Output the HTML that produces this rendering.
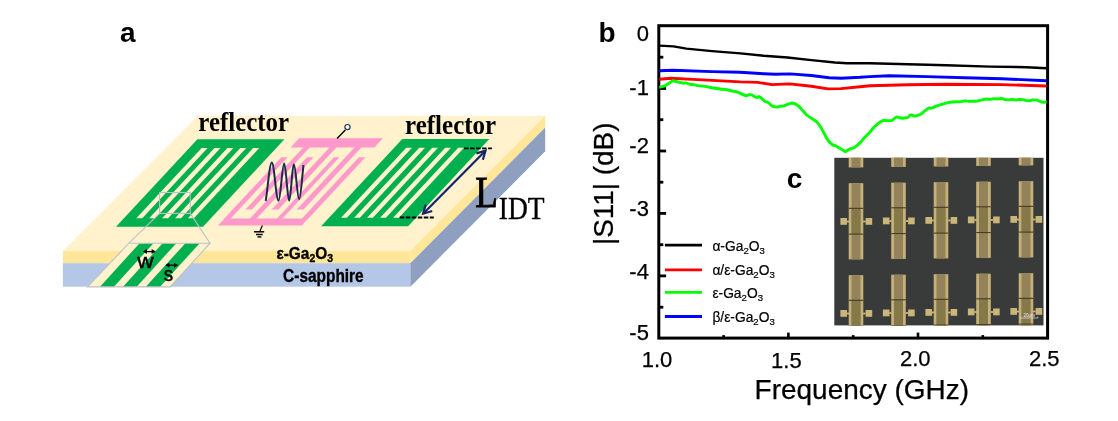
<!DOCTYPE html>
<html><head><meta charset="utf-8"><title>Figure</title>
<style>html,body{margin:0;padding:0;background:#fff;}svg{display:block;}</style>
</head><body>
<svg width="1118" height="421" viewBox="0 0 1118 421">
<polygon points="197.7,115.8 545.2,115.8 410.4,251.0 62.9,251.0" fill="#fff2cc" />
<rect x="62.9" y="251" width="347.5" height="12.2" fill="#ffe699"/>
<rect x="62.9" y="263.2" width="347.5" height="23.5" fill="#b4c7e7"/>
<polygon points="410.4,251.0 545.2,115.8 545.2,127.5 410.4,263.2" fill="#ffe699" />
<polygon points="410.4,263.2 545.2,127.5 545.2,151.3 410.4,286.7" fill="#8f9fbf" />
<polygon points="197.4,139.3 284.4,139.3 203.0,226.7 116.0,226.7" fill="#00b050" />
<polygon points="201.6,148.1 207.6,148.1 142.3,218.2 136.3,218.2" fill="#fff2cc" />
<polygon points="214.5,148.1 220.5,148.1 155.2,218.2 149.2,218.2" fill="#fff2cc" />
<polygon points="227.4,148.1 233.4,148.1 168.1,218.2 162.1,218.2" fill="#fff2cc" />
<polygon points="240.3,148.1 246.3,148.1 181.0,218.2 175.0,218.2" fill="#fff2cc" />
<polygon points="253.2,148.1 259.2,148.1 193.9,218.2 187.9,218.2" fill="#fff2cc" />
<polygon points="402.3,139.0 489.3,139.0 408.1,226.3 321.1,226.3" fill="#00b050" />
<polygon points="406.2,147.8 412.0,147.8 346.9,217.8 341.1,217.8" fill="#fff2cc" />
<polygon points="419.2,147.8 425.0,147.8 359.9,217.8 354.1,217.8" fill="#fff2cc" />
<polygon points="432.2,147.8 438.0,147.8 372.9,217.8 367.1,217.8" fill="#fff2cc" />
<polygon points="445.2,147.8 451.0,147.8 385.9,217.8 380.1,217.8" fill="#fff2cc" />
<polygon points="458.2,147.8 464.0,147.8 398.9,217.8 393.1,217.8" fill="#fff2cc" />
<polygon points="299.2,138.3 382.9,138.3 374.3,147.5 290.6,147.5" fill="#ff99cc" />
<polygon points="224.6,218.5 308.3,218.5 301.7,225.6 218.0,225.6" fill="#ff99cc" />
<polygon points="281.3,157.3 287.6,157.3 230.2,219.0 223.9,219.0" fill="#ff99cc" />
<polygon points="303.7,147.0 310.2,147.0 251.9,209.6 245.4,209.6" fill="#ff99cc" />
<polygon points="307.0,157.3 313.6,157.3 256.2,219.0 249.6,219.0" fill="#ff99cc" />
<polygon points="330.0,147.0 336.8,147.0 278.5,209.6 271.7,209.6" fill="#ff99cc" />
<polygon points="334.0,157.3 339.4,157.3 282.0,219.0 276.6,219.0" fill="#ff99cc" />
<polygon points="355.0,147.0 361.8,147.0 303.5,209.6 296.7,209.6" fill="#ff99cc" />
<polygon points="358.9,157.3 365.4,157.3 308.0,219.0 301.5,219.0" fill="#ff99cc" />
<path d="M265.7,201.0 C267.23,193.00 269.58,162.50 271.80,162.50 C274.24,162.50 276.06,200.60 278.50,200.60 C280.58,200.60 282.12,163.50 284.20,163.50 C286.02,163.50 287.38,200.60 289.20,200.60 C290.88,200.60 292.12,164.30 293.80,164.30 C295.77,164.30 297.23,199.20 299.20,199.20 C300.77,199.20 302.43,173.00 303.50,165.00" fill="none" stroke="#1c2a4e" stroke-width="2" stroke-linejoin="round"/>
<line x1="337.1" y1="138.5" x2="345.3" y2="130" stroke="#000" stroke-width="1.4"/>
<circle cx="347.5" cy="127.1" r="2.6" fill="#fffaf0" stroke="#1f3864" stroke-width="1.2"/>
<line x1="262.4" y1="225.6" x2="260" y2="231" stroke="#000" stroke-width="1.2"/>
<line x1="254" y1="231.8" x2="264.2" y2="231.8" stroke="#000" stroke-width="1.5"/>
<line x1="256" y1="234.5" x2="262.7" y2="234.5" stroke="#000" stroke-width="1.5"/>
<line x1="257.5" y1="236.9" x2="261.4" y2="236.9" stroke="#000" stroke-width="1.4"/>
<line x1="464.1" y1="148.4" x2="491.9" y2="148.4" stroke="#000" stroke-width="1.8" stroke-dasharray="4.5,1.5"/>
<line x1="399.8" y1="217.5" x2="433.8" y2="217.5" stroke="#000" stroke-width="1.8" stroke-dasharray="4.5,1.5"/>
<line x1="485.5" y1="150.7" x2="423.1" y2="213.7" stroke="#14246e" stroke-width="2.2"/>
<polyline points="476.4,153.4 485.5,150.7 482.9,159.8" fill="none" stroke="#14246e" stroke-width="2.2" stroke-linejoin="miter"/>
<polyline points="432.2,211.0 423.1,213.7 425.7,204.6" fill="none" stroke="#14246e" stroke-width="2.2" stroke-linejoin="miter"/>
<rect x="159.6" y="192.5" width="30.6" height="20.9" fill="none" stroke="#bfbfc9" stroke-width="1.1"/>
<line x1="159.6" y1="213.4" x2="128.9" y2="243.2" stroke="#bfbfc9" stroke-width="1.1"/>
<line x1="190.2" y1="213.4" x2="210.1" y2="243.2" stroke="#bfbfc9" stroke-width="1.1"/>
<clipPath id="ins"><polygon points="128.9,243.2 210.1,243.2 170.2,286.9 87.5,286.9"/></clipPath>
<polygon points="128.9,243.2 210.1,243.2 170.2,286.9 87.5,286.9" fill="#fff2cc" />
<g clip-path="url(#ins)">
<polygon points="139.6,243.2 153.5,243.2 113.7,286.9 99.8,286.9" fill="#00b050" />
<polygon points="162.6,243.2 176.3,243.2 136.5,286.9 122.8,286.9" fill="#00b050" />
<polygon points="185.4,243.2 199.7,243.2 159.9,286.9 145.6,286.9" fill="#00b050" />
</g>
<polygon points="128.9,243.2 210.1,243.2 170.2,286.9 87.5,286.9" fill="none" stroke="#bfbfc9" stroke-width="1.1"/>
<line x1="143.5" y1="251.6" x2="155.0" y2="251.6" stroke="#000" stroke-width="1.3"/>
<polygon points="142.9,251.6 146.9,249.1 146.9,254.1" fill="#000"/>
<polygon points="155.6,251.6 151.6,249.1 151.6,254.1" fill="#000"/>
<line x1="166.0" y1="265.2" x2="177.5" y2="265.2" stroke="#000" stroke-width="1.3"/>
<polygon points="165.4,265.2 169.4,262.7 169.4,267.7" fill="#000"/>
<polygon points="178.1,265.2 174.1,262.7 174.1,267.7" fill="#000"/>
<text x="145.5" y="267.8" font-family="'Liberation Sans',sans-serif" font-size="20" stroke="#000" stroke-width="0.45" text-anchor="middle" textLength="16.4" lengthAdjust="spacingAndGlyphs">w</text>
<text x="168.5" y="281.1" font-family="'Liberation Sans',sans-serif" font-size="20" stroke="#000" stroke-width="0.45" text-anchor="middle" textLength="9.4" lengthAdjust="spacingAndGlyphs">s</text>
<text x="198.3" y="130.6" font-family="'Liberation Serif',serif" font-weight="bold" font-size="26.5" textLength="90.8" lengthAdjust="spacingAndGlyphs">reflector</text>
<text x="405" y="133.8" font-family="'Liberation Serif',serif" font-weight="bold" font-size="26.5" textLength="91.2" lengthAdjust="spacingAndGlyphs">reflector</text>
<text x="475.3" y="207.3" font-family="'Liberation Serif',serif" font-size="43.8" stroke="#000" stroke-width="0.9" textLength="22.6" lengthAdjust="spacingAndGlyphs">L</text>
<text x="498.8" y="218.7" font-family="'Liberation Serif',serif" font-size="32.5" stroke="#000" stroke-width="0.35" textLength="45.8" lengthAdjust="spacingAndGlyphs">IDT</text>
<text x="276.4" y="259" font-family="'Liberation Sans',sans-serif" font-weight="bold" font-size="17" stroke="#000" stroke-width="0.35" textLength="56.6" lengthAdjust="spacingAndGlyphs">ε-Ga<tspan font-size="11.5" dy="3">2</tspan><tspan dy="-3">O</tspan><tspan font-size="11.5" dy="3">3</tspan></text>
<text x="283.1" y="281.8" font-family="'Liberation Sans',sans-serif" font-weight="bold" font-size="17.8" stroke="#000" stroke-width="0.35" textLength="80.6" lengthAdjust="spacingAndGlyphs">C-sapphire</text>
<text x="120" y="41.5" font-family="'Liberation Sans',sans-serif" font-weight="bold" font-size="28">a</text>
<text x="598.6" y="41.5" font-family="'Liberation Sans',sans-serif" font-weight="bold" font-size="28">b</text>
<text x="786.8" y="188.3" font-family="'Liberation Sans',sans-serif" font-weight="bold" font-size="28">c</text>
<clipPath id="mc"><rect x="834.3" y="157.8" width="209.2" height="167.6"/></clipPath>
<rect x="834.3" y="157.8" width="209.2" height="167.6" fill="#393b3a"/>
<g clip-path="url(#mc)">
<rect x="848.7" y="91.2" width="14.6" height="76.2" fill="#c6b079"/>
<rect x="851.5" y="91.2" width="9.0" height="76.2" fill="#94835a"/>
<rect x="851.5" y="116.3" width="9.0" height="25.8" fill="#867949"/>
<rect x="848.7" y="115.8" width="14.6" height="1" fill="#3e3524"/>
<rect x="848.7" y="141.6" width="14.6" height="1" fill="#3e3524"/>
<rect x="840.4" y="126.0" width="6.6" height="6.8" fill="#cbb679"/>
<rect x="865.6" y="126.0" width="6.6" height="6.8" fill="#cbb679"/>
<rect x="846.8" y="128.6" width="2.5" height="1.8" fill="#cbb679"/>
<rect x="863.1" y="128.6" width="2.5" height="1.8" fill="#cbb679"/>
<rect x="848.7" y="183.2" width="14.6" height="76.2" fill="#c6b079"/>
<rect x="851.5" y="183.2" width="9.0" height="76.2" fill="#94835a"/>
<rect x="851.5" y="208.3" width="9.0" height="25.8" fill="#867949"/>
<rect x="848.7" y="207.8" width="14.6" height="1" fill="#3e3524"/>
<rect x="848.7" y="233.6" width="14.6" height="1" fill="#3e3524"/>
<rect x="840.4" y="218.0" width="6.6" height="6.8" fill="#cbb679"/>
<rect x="865.6" y="218.0" width="6.6" height="6.8" fill="#cbb679"/>
<rect x="846.8" y="220.6" width="2.5" height="1.8" fill="#cbb679"/>
<rect x="863.1" y="220.6" width="2.5" height="1.8" fill="#cbb679"/>
<rect x="848.7" y="275.2" width="14.6" height="76.2" fill="#c6b079"/>
<rect x="851.5" y="275.2" width="9.0" height="76.2" fill="#94835a"/>
<rect x="851.5" y="300.3" width="9.0" height="25.8" fill="#867949"/>
<rect x="848.7" y="299.8" width="14.6" height="1" fill="#3e3524"/>
<rect x="848.7" y="325.6" width="14.6" height="1" fill="#3e3524"/>
<rect x="840.4" y="310.0" width="6.6" height="6.8" fill="#cbb679"/>
<rect x="865.6" y="310.0" width="6.6" height="6.8" fill="#cbb679"/>
<rect x="846.8" y="312.6" width="2.5" height="1.8" fill="#cbb679"/>
<rect x="863.1" y="312.6" width="2.5" height="1.8" fill="#cbb679"/>
<rect x="891.2" y="90.7" width="14.6" height="76.2" fill="#c6b079"/>
<rect x="894.0" y="90.7" width="9.0" height="76.2" fill="#94835a"/>
<rect x="894.0" y="115.8" width="9.0" height="25.8" fill="#867949"/>
<rect x="891.2" y="115.3" width="14.6" height="1" fill="#3e3524"/>
<rect x="891.2" y="141.1" width="14.6" height="1" fill="#3e3524"/>
<rect x="882.9" y="125.5" width="6.6" height="6.8" fill="#cbb679"/>
<rect x="908.1" y="125.5" width="6.6" height="6.8" fill="#cbb679"/>
<rect x="889.3" y="128.1" width="2.5" height="1.8" fill="#cbb679"/>
<rect x="905.6" y="128.1" width="2.5" height="1.8" fill="#cbb679"/>
<rect x="891.2" y="182.7" width="14.6" height="76.2" fill="#c6b079"/>
<rect x="894.0" y="182.7" width="9.0" height="76.2" fill="#94835a"/>
<rect x="894.0" y="207.8" width="9.0" height="25.8" fill="#867949"/>
<rect x="891.2" y="207.3" width="14.6" height="1" fill="#3e3524"/>
<rect x="891.2" y="233.1" width="14.6" height="1" fill="#3e3524"/>
<rect x="882.9" y="217.5" width="6.6" height="6.8" fill="#cbb679"/>
<rect x="908.1" y="217.5" width="6.6" height="6.8" fill="#cbb679"/>
<rect x="889.3" y="220.1" width="2.5" height="1.8" fill="#cbb679"/>
<rect x="905.6" y="220.1" width="2.5" height="1.8" fill="#cbb679"/>
<rect x="891.2" y="274.7" width="14.6" height="76.2" fill="#c6b079"/>
<rect x="894.0" y="274.7" width="9.0" height="76.2" fill="#94835a"/>
<rect x="894.0" y="299.8" width="9.0" height="25.8" fill="#867949"/>
<rect x="891.2" y="299.3" width="14.6" height="1" fill="#3e3524"/>
<rect x="891.2" y="325.1" width="14.6" height="1" fill="#3e3524"/>
<rect x="882.9" y="309.5" width="6.6" height="6.8" fill="#cbb679"/>
<rect x="908.1" y="309.5" width="6.6" height="6.8" fill="#cbb679"/>
<rect x="889.3" y="312.1" width="2.5" height="1.8" fill="#cbb679"/>
<rect x="905.6" y="312.1" width="2.5" height="1.8" fill="#cbb679"/>
<rect x="933.7" y="90.2" width="14.6" height="76.2" fill="#c6b079"/>
<rect x="936.5" y="90.2" width="9.0" height="76.2" fill="#94835a"/>
<rect x="936.5" y="115.3" width="9.0" height="25.8" fill="#867949"/>
<rect x="933.7" y="114.8" width="14.6" height="1" fill="#3e3524"/>
<rect x="933.7" y="140.6" width="14.6" height="1" fill="#3e3524"/>
<rect x="925.4" y="125.0" width="6.6" height="6.8" fill="#cbb679"/>
<rect x="950.6" y="125.0" width="6.6" height="6.8" fill="#cbb679"/>
<rect x="931.8" y="127.6" width="2.5" height="1.8" fill="#cbb679"/>
<rect x="948.1" y="127.6" width="2.5" height="1.8" fill="#cbb679"/>
<rect x="933.7" y="182.2" width="14.6" height="76.2" fill="#c6b079"/>
<rect x="936.5" y="182.2" width="9.0" height="76.2" fill="#94835a"/>
<rect x="936.5" y="207.3" width="9.0" height="25.8" fill="#867949"/>
<rect x="933.7" y="206.8" width="14.6" height="1" fill="#3e3524"/>
<rect x="933.7" y="232.6" width="14.6" height="1" fill="#3e3524"/>
<rect x="925.4" y="217.0" width="6.6" height="6.8" fill="#cbb679"/>
<rect x="950.6" y="217.0" width="6.6" height="6.8" fill="#cbb679"/>
<rect x="931.8" y="219.6" width="2.5" height="1.8" fill="#cbb679"/>
<rect x="948.1" y="219.6" width="2.5" height="1.8" fill="#cbb679"/>
<rect x="933.7" y="274.2" width="14.6" height="76.2" fill="#c6b079"/>
<rect x="936.5" y="274.2" width="9.0" height="76.2" fill="#94835a"/>
<rect x="936.5" y="299.3" width="9.0" height="25.8" fill="#867949"/>
<rect x="933.7" y="298.8" width="14.6" height="1" fill="#3e3524"/>
<rect x="933.7" y="324.6" width="14.6" height="1" fill="#3e3524"/>
<rect x="925.4" y="309.0" width="6.6" height="6.8" fill="#cbb679"/>
<rect x="950.6" y="309.0" width="6.6" height="6.8" fill="#cbb679"/>
<rect x="931.8" y="311.6" width="2.5" height="1.8" fill="#cbb679"/>
<rect x="948.1" y="311.6" width="2.5" height="1.8" fill="#cbb679"/>
<rect x="976.2" y="89.7" width="14.6" height="76.2" fill="#c6b079"/>
<rect x="979.0" y="89.7" width="9.0" height="76.2" fill="#94835a"/>
<rect x="979.0" y="114.8" width="9.0" height="25.8" fill="#867949"/>
<rect x="976.2" y="114.3" width="14.6" height="1" fill="#3e3524"/>
<rect x="976.2" y="140.1" width="14.6" height="1" fill="#3e3524"/>
<rect x="967.9" y="124.5" width="6.6" height="6.8" fill="#cbb679"/>
<rect x="993.1" y="124.5" width="6.6" height="6.8" fill="#cbb679"/>
<rect x="974.3" y="127.1" width="2.5" height="1.8" fill="#cbb679"/>
<rect x="990.6" y="127.1" width="2.5" height="1.8" fill="#cbb679"/>
<rect x="976.2" y="181.7" width="14.6" height="76.2" fill="#c6b079"/>
<rect x="979.0" y="181.7" width="9.0" height="76.2" fill="#94835a"/>
<rect x="979.0" y="206.8" width="9.0" height="25.8" fill="#867949"/>
<rect x="976.2" y="206.3" width="14.6" height="1" fill="#3e3524"/>
<rect x="976.2" y="232.1" width="14.6" height="1" fill="#3e3524"/>
<rect x="967.9" y="216.5" width="6.6" height="6.8" fill="#cbb679"/>
<rect x="993.1" y="216.5" width="6.6" height="6.8" fill="#cbb679"/>
<rect x="974.3" y="219.1" width="2.5" height="1.8" fill="#cbb679"/>
<rect x="990.6" y="219.1" width="2.5" height="1.8" fill="#cbb679"/>
<rect x="976.2" y="273.7" width="14.6" height="76.2" fill="#c6b079"/>
<rect x="979.0" y="273.7" width="9.0" height="76.2" fill="#94835a"/>
<rect x="979.0" y="298.8" width="9.0" height="25.8" fill="#867949"/>
<rect x="976.2" y="298.3" width="14.6" height="1" fill="#3e3524"/>
<rect x="976.2" y="324.1" width="14.6" height="1" fill="#3e3524"/>
<rect x="967.9" y="308.5" width="6.6" height="6.8" fill="#cbb679"/>
<rect x="993.1" y="308.5" width="6.6" height="6.8" fill="#cbb679"/>
<rect x="974.3" y="311.1" width="2.5" height="1.8" fill="#cbb679"/>
<rect x="990.6" y="311.1" width="2.5" height="1.8" fill="#cbb679"/>
<rect x="1018.7" y="89.2" width="14.6" height="76.2" fill="#c6b079"/>
<rect x="1021.5" y="89.2" width="9.0" height="76.2" fill="#94835a"/>
<rect x="1021.5" y="114.3" width="9.0" height="25.8" fill="#867949"/>
<rect x="1018.7" y="113.8" width="14.6" height="1" fill="#3e3524"/>
<rect x="1018.7" y="139.6" width="14.6" height="1" fill="#3e3524"/>
<rect x="1010.4" y="124.0" width="6.6" height="6.8" fill="#cbb679"/>
<rect x="1035.6" y="124.0" width="6.6" height="6.8" fill="#cbb679"/>
<rect x="1016.8" y="126.6" width="2.5" height="1.8" fill="#cbb679"/>
<rect x="1033.1" y="126.6" width="2.5" height="1.8" fill="#cbb679"/>
<rect x="1018.7" y="181.2" width="14.6" height="76.2" fill="#c6b079"/>
<rect x="1021.5" y="181.2" width="9.0" height="76.2" fill="#94835a"/>
<rect x="1021.5" y="206.3" width="9.0" height="25.8" fill="#867949"/>
<rect x="1018.7" y="205.8" width="14.6" height="1" fill="#3e3524"/>
<rect x="1018.7" y="231.6" width="14.6" height="1" fill="#3e3524"/>
<rect x="1010.4" y="216.0" width="6.6" height="6.8" fill="#cbb679"/>
<rect x="1035.6" y="216.0" width="6.6" height="6.8" fill="#cbb679"/>
<rect x="1016.8" y="218.6" width="2.5" height="1.8" fill="#cbb679"/>
<rect x="1033.1" y="218.6" width="2.5" height="1.8" fill="#cbb679"/>
<rect x="1018.7" y="273.2" width="14.6" height="76.2" fill="#c6b079"/>
<rect x="1021.5" y="273.2" width="9.0" height="76.2" fill="#94835a"/>
<rect x="1021.5" y="298.3" width="9.0" height="25.8" fill="#867949"/>
<rect x="1018.7" y="297.8" width="14.6" height="1" fill="#3e3524"/>
<rect x="1018.7" y="323.6" width="14.6" height="1" fill="#3e3524"/>
<rect x="1010.4" y="308.0" width="6.6" height="6.8" fill="#cbb679"/>
<rect x="1035.6" y="308.0" width="6.6" height="6.8" fill="#cbb679"/>
<rect x="1016.8" y="310.6" width="2.5" height="1.8" fill="#cbb679"/>
<rect x="1033.1" y="310.6" width="2.5" height="1.8" fill="#cbb679"/>
</g>
<text x="1023.5" y="317.2" font-family="'Liberation Sans',sans-serif" font-size="4.6" fill="#e8e8e8" textLength="11.5" lengthAdjust="spacingAndGlyphs">20μm</text>
<path d="M1020,316.6 V318 H1037.8 V316.6" fill="none" stroke="#dcdcdc" stroke-width="0.7"/>
<rect x="658.8" y="25.7" width="388.8" height="312.4" fill="none" stroke="#000" stroke-width="3"/>
<line x1="658.8" y1="88.5" x2="666.1" y2="88.5" stroke="#000" stroke-width="2.8"/>
<line x1="658.8" y1="151.0" x2="666.1" y2="151.0" stroke="#000" stroke-width="2.8"/>
<line x1="658.8" y1="213.4" x2="666.1" y2="213.4" stroke="#000" stroke-width="2.8"/>
<line x1="658.8" y1="275.9" x2="666.1" y2="275.9" stroke="#000" stroke-width="2.8"/>
<line x1="658.8" y1="57.2" x2="663.3" y2="57.2" stroke="#000" stroke-width="2.8"/>
<line x1="658.8" y1="119.7" x2="663.3" y2="119.7" stroke="#000" stroke-width="2.8"/>
<line x1="658.8" y1="182.2" x2="663.3" y2="182.2" stroke="#000" stroke-width="2.8"/>
<line x1="658.8" y1="244.7" x2="663.3" y2="244.7" stroke="#000" stroke-width="2.8"/>
<line x1="658.8" y1="307.2" x2="663.3" y2="307.2" stroke="#000" stroke-width="2.8"/>
<line x1="788.4" y1="338.1" x2="788.4" y2="332.6" stroke="#000" stroke-width="2.6"/>
<line x1="918.0" y1="338.1" x2="918.0" y2="332.6" stroke="#000" stroke-width="2.6"/>
<line x1="723.6" y1="338.1" x2="723.6" y2="335.1" stroke="#000" stroke-width="2.6"/>
<line x1="853.2" y1="338.1" x2="853.2" y2="335.1" stroke="#000" stroke-width="2.6"/>
<line x1="982.8" y1="338.1" x2="982.8" y2="335.1" stroke="#000" stroke-width="2.6"/>
<polyline points="659.3,45.6 673.5,46.4 686.4,48.6 712.0,51.1 740.5,53.4 763.8,55.8 787.5,57.5 811.3,60.1 835.0,62.5 847.0,63.3 860.0,63.2 870.0,63.3 908.0,64.2 946.0,65.2 990.0,66.6 1026.6,67.2 1046.6,68.2" fill="none" stroke="#000" stroke-width="2.4" stroke-linejoin="round" stroke-linecap="butt"/>
<polyline points="659.3,79.3 670.7,78.2 697.8,79.6 740.5,81.9 757.8,82.4 772.1,84.6 789.9,83.9 811.3,86.2 827.9,88.9 841.0,88.6 860.0,86.8 870.0,85.7 908.0,84.8 946.0,84.2 1001.6,84.6 1046.6,86.0" fill="none" stroke="#ff0000" stroke-width="2.9" stroke-linejoin="round" stroke-linecap="butt"/>
<polyline points="659.3,87.4 665.0,85.9 668.5,83.5 672.8,80.6 677.8,82.0 683.5,83.2 686.0,82.9 690.6,84.5 694.0,84.6 697.8,85.6 705.0,86.4 712.0,87.7 722.0,89.2 727.0,89.6 732.0,91.0 736.0,91.6 740.5,93.4 743.5,94.9 746.2,95.9 749.0,94.7 751.9,94.9 754.5,96.6 756.9,97.7 758.8,96.6 760.5,97.2 762.5,99.3 765.0,101.3 768.3,102.5 771.6,105.8 774.5,106.8 777.5,107.1 780.5,106.2 783.3,106.1 787.5,104.4 791.6,103.0 794.0,103.4 796.6,104.6 799.0,106.6 801.5,109.1 804.0,112.0 806.5,114.9 809.0,116.6 811.5,118.3 814.5,120.2 817.3,122.4 820.0,126.0 822.3,129.9 824.5,134.0 826.5,138.2 829.0,141.6 831.5,144.0 833.2,145.2 834.8,145.3 837.3,146.9 839.8,148.2 842.7,150.0 845.6,151.7 847.6,150.2 849.7,149.0 852.2,148.3 854.7,147.3 857.2,145.4 859.7,143.2 862.2,140.4 864.7,137.4 867.2,135.0 869.7,132.4 872.2,129.3 874.7,126.6 877.5,124.0 880.0,122.3 883.3,120.2 887.5,120.7 891.8,120.6 894.2,118.6 896.6,116.9 900.0,117.8 903.2,118.3 905.6,117.7 908.0,117.4 909.6,115.6 910.8,114.9 913.2,115.7 915.6,116.1 918.0,115.2 920.3,114.6 924.5,111.2 928.9,107.9 930.8,108.2 932.7,107.9 935.5,106.4 938.4,105.4 942.0,104.3 946.0,103.2 950.5,102.2 955.4,101.6 960.0,101.9 965.0,100.9 969.0,101.4 973.5,101.3 976.6,101.2 980.1,100.3 983.0,99.6 986.6,99.0 990.0,99.4 994.0,98.6 997.5,99.0 1001.6,98.4 1005.0,99.5 1008.3,99.9 1012.0,99.4 1016.0,100.0 1019.5,99.4 1023.2,99.6 1026.5,100.6 1029.9,100.7 1033.0,99.9 1036.5,99.9 1040.0,101.4 1043.2,102.4 1046.6,102.0" fill="none" stroke="#00ff00" stroke-width="2.9" stroke-linejoin="round" stroke-linecap="butt"/>
<polyline points="659.3,70.7 673.5,70.2 712.0,71.6 740.0,72.3 763.8,73.7 775.6,74.3 789.9,73.9 811.3,75.5 829.1,77.8 841.0,78.2 860.0,77.3 870.0,76.6 889.0,75.8 927.0,76.6 965.0,77.8 1001.6,78.7 1046.6,80.8" fill="none" stroke="#0000ff" stroke-width="2.9" stroke-linejoin="round" stroke-linecap="butt"/>
<text x="648.9" y="40.8" text-anchor="end" font-family="'Liberation Sans',sans-serif" font-size="22" stroke="#000" stroke-width="0.25">0</text>
<text x="648.9" y="94.8" text-anchor="end" font-family="'Liberation Sans',sans-serif" font-size="22" stroke="#000" stroke-width="0.25">-1</text>
<text x="648.9" y="153.3" text-anchor="end" font-family="'Liberation Sans',sans-serif" font-size="22" stroke="#000" stroke-width="0.25">-2</text>
<text x="648.9" y="215.8" text-anchor="end" font-family="'Liberation Sans',sans-serif" font-size="22" stroke="#000" stroke-width="0.25">-3</text>
<text x="648.9" y="279.0" text-anchor="end" font-family="'Liberation Sans',sans-serif" font-size="22" stroke="#000" stroke-width="0.25">-4</text>
<text x="648.9" y="339.8" text-anchor="end" font-family="'Liberation Sans',sans-serif" font-size="22" stroke="#000" stroke-width="0.25">-5</text>
<text x="657.0" y="367.2" text-anchor="middle" font-family="'Liberation Sans',sans-serif" font-size="22" stroke="#000" stroke-width="0.25">1.0</text>
<text x="786.4" y="367.7" text-anchor="middle" font-family="'Liberation Sans',sans-serif" font-size="22" stroke="#000" stroke-width="0.25">1.5</text>
<text x="915.2" y="366.0" text-anchor="middle" font-family="'Liberation Sans',sans-serif" font-size="22" stroke="#000" stroke-width="0.25">2.0</text>
<text x="1044.2" y="366.0" text-anchor="middle" font-family="'Liberation Sans',sans-serif" font-size="22" stroke="#000" stroke-width="0.25">2.5</text>
<text x="754.6" y="398.9" font-family="'Liberation Sans',sans-serif" font-size="28" textLength="214.5" lengthAdjust="spacingAndGlyphs" stroke="#000" stroke-width="0.25">Frequency (GHz)</text>
<text transform="translate(612.7,245.1) rotate(-90)" font-family="'Liberation Sans',sans-serif" font-size="27.6" textLength="122.6" lengthAdjust="spacingAndGlyphs" stroke="#000" stroke-width="0.25">|S11| (dB)</text>
<line x1="664.9" y1="245.1" x2="702" y2="245.1" stroke="#000" stroke-width="2.8"/>
<text x="712.4" y="250.6" font-family="'Liberation Sans',sans-serif" font-size="13.8" stroke="#000" stroke-width="0.2">α-Ga<tspan font-size="9.6" dy="3.4">2</tspan><tspan dy="-3.4">O</tspan><tspan font-size="9.6" dy="3.4">3</tspan></text>
<line x1="664.9" y1="269.9" x2="702" y2="269.9" stroke="#ff0000" stroke-width="2.8"/>
<text x="712.4" y="274.9" font-family="'Liberation Sans',sans-serif" font-size="13.8" stroke="#000" stroke-width="0.2">α/ε-Ga<tspan font-size="9.6" dy="3.4">2</tspan><tspan dy="-3.4">O</tspan><tspan font-size="9.6" dy="3.4">3</tspan></text>
<line x1="664.9" y1="292.4" x2="702" y2="292.4" stroke="#00ff00" stroke-width="2.8"/>
<text x="712.4" y="297.7" font-family="'Liberation Sans',sans-serif" font-size="13.8" stroke="#000" stroke-width="0.2">ε-Ga<tspan font-size="9.6" dy="3.4">2</tspan><tspan dy="-3.4">O</tspan><tspan font-size="9.6" dy="3.4">3</tspan></text>
<line x1="664.9" y1="316.5" x2="702" y2="316.5" stroke="#0000ff" stroke-width="2.8"/>
<text x="712.4" y="322.0" font-family="'Liberation Sans',sans-serif" font-size="13.8" stroke="#000" stroke-width="0.2">β/ε-Ga<tspan font-size="9.6" dy="3.4">2</tspan><tspan dy="-3.4">O</tspan><tspan font-size="9.6" dy="3.4">3</tspan></text>
</svg>
</body></html>
